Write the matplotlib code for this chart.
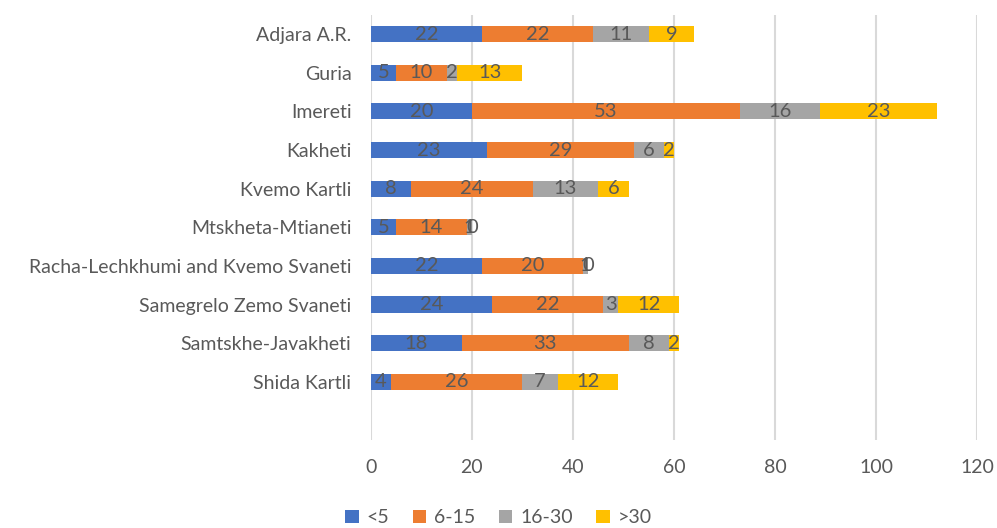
import numpy as np
import matplotlib.pyplot as plt

plt.rcParams['font.family'] = ['Lato', 'DejaVu Sans']

regions = ["Adjara A.R.", "Guria", "Imereti", "Kakheti", "Kvemo Kartli",
           "Mtskheta-Mtianeti", "Racha-Lechkhumi and Kvemo Svaneti",
           "Samegrelo Zemo Svaneti", "Samtskhe-Javakheti", "Shida Kartli"]
series = ["<5", "6-15", "16-30", ">30"]
lt5 = [22, 5, 20, 23, 8, 5, 22, 24, 18, 4]
r6_15 = [22, 10, 53, 29, 24, 14, 20, 22, 33, 26]
r16_30 = [11, 2, 16, 6, 13, 1, 1, 3, 8, 7]
gt30 = [9, 13, 23, 2, 6, 0, 0, 12, 2, 12]
colors = ["#4472c4", "#ed7d31", "#a5a5a5", "#ffc000"]

fig = plt.figure(figsize=(9.97, 5.28), dpi=100)
ax = fig.add_axes([0.372, 0.167, 0.608, 0.805])

y = np.arange(len(regions))
left = np.zeros(len(regions))
for name, vals, col in zip(series, [lt5, r6_15, r16_30, gt30], colors):
    vals = np.array(vals, dtype=float)
    ax.barh(y, vals, left=left, height=0.42, color=col, label=name, zorder=3)
    for yi, l, v in zip(y, left, vals):
        ax.text(l + v / 2, yi, f"{int(v)}", ha="center", va="center",
                fontsize=14.5, color="#595959", zorder=4)
    left += vals

ax.set_ylim(10.5, -0.5)
ax.set_xlim(0, 120)
ax.set_xticks(np.arange(0, 121, 20))
ax.set_yticks(y)
ax.set_yticklabels(regions, fontsize=14, color="#595959")
ax.tick_params(axis="x", labelsize=14, labelcolor="#595959", length=0, pad=14)
ax.tick_params(axis="y", length=0, pad=14)
ax.grid(axis="x", color="#d9d9d9", linewidth=1.5, zorder=0)
for s in ax.spines.values():
    s.set_visible(False)

fig.legend(loc="lower center", bbox_to_anchor=(0.5, -0.03), ncol=4, frameon=False,
           fontsize=14, labelcolor="#595959", handlelength=0.7, handleheight=0.7,
           columnspacing=1.2, handletextpad=0.4)

fig.savefig("out.png", dpi=100)
